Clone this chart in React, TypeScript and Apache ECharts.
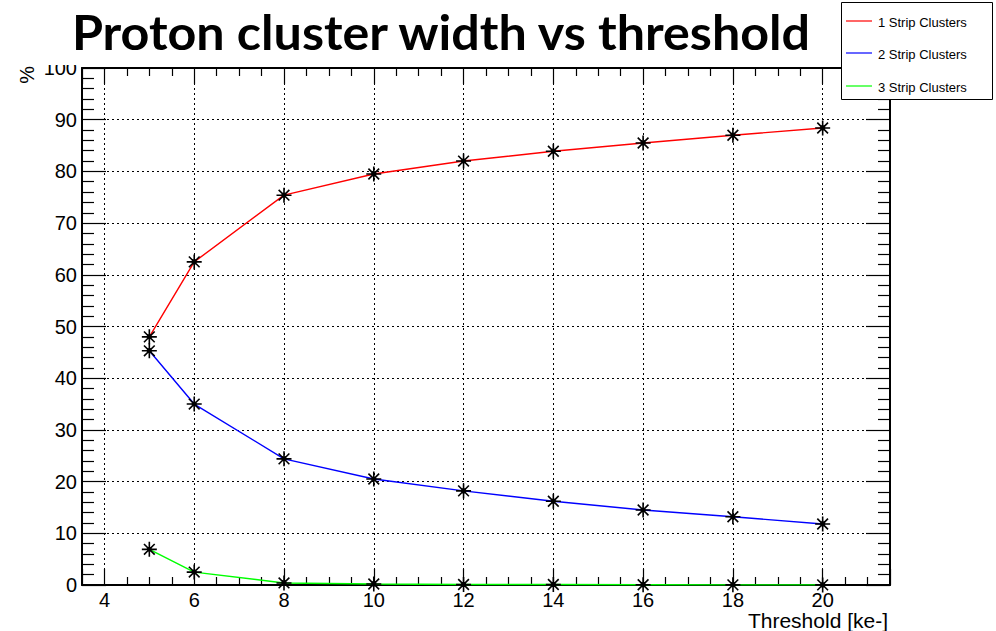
import { useEffect, useRef } from "react";
import * as echarts from "echarts";

// Threshold scan (ke-) and cluster-width fractions (%)
const thresholds = [5, 6, 8, 10, 12, 14, 16, 18, 20];
const oneStrip = [48.0, 62.5, 75.4, 79.5, 82.0, 83.9, 85.5, 87.0, 88.4];
const twoStrip = [45.3, 35.0, 24.4, 20.5, 18.2, 16.2, 14.5, 13.2, 11.8];
const threeStrip = [6.9, 2.5, 0.4, 0.2, 0.1, 0.1, 0.05, 0.03, 0.02];

const seriesNames = ["1 Strip Clusters", "2 Strip Clusters", "3 Strip Clusters"];
const seriesColors = ["#ff0000", "#0000ff", "#00ff00"];
const xTickLabels = [4, 6, 8, 10, 12, 14, 16, 18, 20];

const titleText = "Proton cluster width vs threshold";
const xTitle = "Threshold [ke-]";
const yTitle = "%";

const FONT = "Liberation Sans";

// ROOT-style asterisk marker with a small filled centre
const STAR =
  "path://M0,7L14,7M7,0L7,14M2,2L12,12M12,2L2,12M7,5.3A1.7,1.7,0,1,1,7,8.7A1.7,1.7,0,1,1,7,5.3Z";

export default function App() {
  const ref = useRef<HTMLDivElement>(null);

  useEffect(() => {
    if (!ref.current) return;
    const chart = echarts.init(ref.current, null, { renderer: "svg" });

    const dataSets = [oneStrip, twoStrip, threeStrip];

    const xCommon = {
      type: "value" as const,
      min: 3.5,
      max: 21.5,
      splitNumber: 9,
      minInterval: 2,
      maxInterval: 2,
      axisLine: { show: true, onZero: false, lineStyle: { color: "#000", width: 2 } },
      axisTick: { show: true, inside: true, length: 16, lineStyle: { color: "#000", width: 1.2 } },
      minorTick: { show: true, splitNumber: 4, length: 8, lineStyle: { color: "#000", width: 1.2 } },
    };
    const yCommon = {
      type: "value" as const,
      min: 0,
      max: 100,
      interval: 10,
      axisLine: { show: true, onZero: false, lineStyle: { color: "#000", width: 2 } },
      axisTick: { show: true, inside: true, length: 24, lineStyle: { color: "#000", width: 1.2 } },
      minorTick: { show: true, splitNumber: 5, length: 12, lineStyle: { color: "#000", width: 1.2 } },
    };

    const legendGraphics: any[] = [
      {
        type: "rect",
        left: 841,
        top: 2,
        shape: { x: 0, y: 0, width: 151, height: 97 },
        style: { fill: "#fff", stroke: "#000", lineWidth: 1 },
        z: 100,
      },
    ];
    const legendY = [21, 53, 86];
    seriesNames.forEach((name, i) => {
      legendGraphics.push({
        type: "line",
        shape: { x1: 846, y1: legendY[i], x2: 872, y2: legendY[i] },
        style: { stroke: seriesColors[i], lineWidth: 1.2 },
        z: 101,
      });
      legendGraphics.push({
        type: "text",
        x: 878,
        y: legendY[i] + 1,
        style: {
          text: name,
          font: `13px "${FONT}"`,
          fill: "#000",
          textAlign: "left",
          textVerticalAlign: "middle",
        },
        z: 101,
      });
    });

    chart.setOption({
      animation: false,
      backgroundColor: "#fff",
      grid: { left: 82, right: 106, top: 68, bottom: 46, containLabel: false },
      xAxis: [
        {
          ...xCommon,
          position: "bottom",
          axisLabel: {
            show: true,
            margin: 5,
            fontFamily: FONT,
            fontSize: 20,
            color: "#000",
            showMinLabel: true,
            showMaxLabel: true,
            formatter: (v: number) => (xTickLabels.includes(v) ? String(v) : ""),
          },
          splitLine: { show: true, lineStyle: { color: "#000", width: 1, type: [2, 3] } },
        },
        {
          ...xCommon,
          position: "top",
          axisLabel: { show: false },
          splitLine: { show: false },
        },
      ],
      yAxis: [
        {
          ...yCommon,
          position: "left",
          axisLabel: {
            show: true,
            margin: 5,
            fontFamily: FONT,
            fontSize: 20,
            color: "#000",
          },
          splitLine: { show: true, lineStyle: { color: "#000", width: 1, type: [2, 3] } },
        },
        {
          ...yCommon,
          position: "right",
          axisLabel: { show: false },
          splitLine: { show: false },
        },
      ],
      series: dataSets.map((vals, i) => ({
        name: seriesNames[i],
        type: "line",
        xAxisIndex: 0,
        yAxisIndex: 0,
        data: thresholds.map((t, k) => [t, vals[k]]),
        lineStyle: { color: seriesColors[i], width: 1.4 },
        symbol: STAR,
        symbolSize: 15,
        itemStyle: { color: "#000", borderColor: "#000", borderWidth: 1.6 },
        z: 10 + i,
      })),
      graphic: [
        // title box (its white background overlaps the top tick label)
        {
          type: "rect",
          shape: { x: 40, y: 0, width: 795, height: 65 },
          style: { fill: "#fff" },
          z: 50,
        },
        {
          type: "text",
          x: 441,
          y: 31,
          scaleX: 1.047,
          originX: 0,
          originY: 0,
          style: {
            text: titleText,
            font: `bold 48px Lato`,
            fill: "#000",
            textAlign: "center",
            textVerticalAlign: "middle",
          },
          z: 51,
        },
        {
          type: "text",
          x: 888,
          y: 620,
          style: {
            text: xTitle,
            font: `21px "${FONT}"`,
            fill: "#000",
            textAlign: "right",
            textVerticalAlign: "middle",
          },
          z: 51,
        },
        {
          type: "text",
          x: 27,
          y: 66,
          rotation: Math.PI / 2,
          style: {
            text: yTitle,
            font: `20px "${FONT}"`,
            fill: "#000",
            textAlign: "right",
            textVerticalAlign: "middle",
          },
          z: 51,
        },
        ...legendGraphics,
      ],
    });

    return () => chart.dispose();
  }, []);

  return (
    <div
      ref={ref}
      style={{ position: "fixed", left: 0, top: 0, width: 996, height: 631 }}
    />
  );
}
